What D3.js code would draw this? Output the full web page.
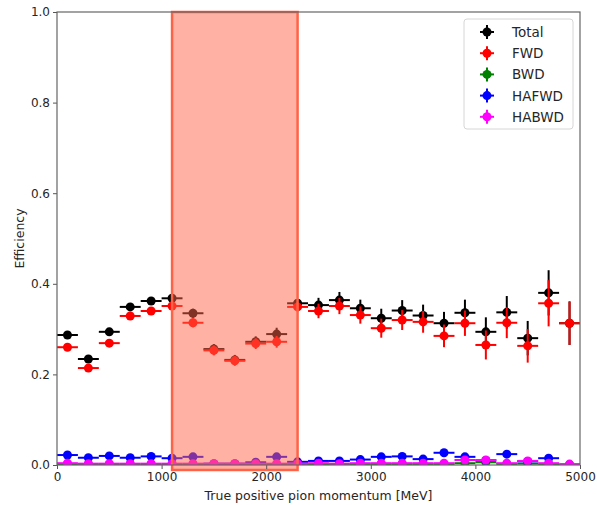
<!DOCTYPE html>
<html>
<head>
<meta charset="utf-8">
<script src="https://d3js.org/d3.v7.min.js"></script>
<style>
  body { margin: 0; background: #fff; }
  text { font-family: "DejaVu Sans", sans-serif; fill: #262626; }
</style>
</head>
<body>
<svg id="chart" width="597" height="505"></svg>
<script>
// bin centres (MeV), 200 MeV wide bins
var centres = [100,300,500,700,900,1100,1300,1500,1700,1900,2100,2300,2500,2700,2900,3100,3300,3500,3700,3900,4100,4300,4500,4700,4900];
var binHalf = 100;

// efficiencies
var total = [0.287,0.234,0.294,0.349,0.362,0.368,0.335,0.256,0.232,0.272,0.289,0.357,0.353,0.364,0.346,0.324,0.341,0.330,0.313,0.336,0.294,0.337,0.280,0.380,0.313];
var totalErr = [0.006,0.007,0.007,0.008,0.008,0.009,0.010,0.011,0.011,0.012,0.014,0.008,0.016,0.018,0.019,0.021,0.023,0.024,0.025,0.029,0.032,0.036,0.038,0.050,0.048];
var fwd = [0.260,0.214,0.269,0.329,0.340,0.351,0.314,0.253,0.230,0.268,0.272,0.349,0.340,0.351,0.331,0.302,0.320,0.316,0.285,0.313,0.265,0.314,0.263,0.357,0.313];
var fwdErr = [0.006,0.006,0.007,0.008,0.008,0.009,0.010,0.011,0.011,0.012,0.013,0.010,0.016,0.018,0.019,0.021,0.022,0.024,0.025,0.028,0.032,0.034,0.037,0.051,0.048];
var bwd = [0.001,0.001,0.001,0.001,0.001,0.001,0.001,0.001,0.001,0.001,0.001,0.001,0.001,0.001,0.001,0.002,0.001,0.002,0.001,0.004,0.006,0.002,0.003,0.001,0.000];
var bwdErr = [0.001,0.001,0.001,0.001,0.001,0.001,0.001,0.001,0.001,0.001,0.001,0.001,0.001,0.001,0.001,0.001,0.001,0.001,0.001,0.003,0.004,0.002,0.003,0.001,0.000];
var hafwd = [0.022,0.016,0.020,0.016,0.019,0.015,0.018,0.003,0.003,0.006,0.018,0.007,0.009,0.009,0.012,0.018,0.019,0.013,0.027,0.018,0.010,0.024,0.008,0.015,0.000];
var hafwdErr = [0.003,0.003,0.003,0.003,0.003,0.003,0.004,0.002,0.002,0.003,0.004,0.002,0.003,0.003,0.004,0.005,0.005,0.005,0.006,0.006,0.006,0.008,0.006,0.009,0.000];
var habwd = [0.004,0.003,0.003,0.003,0.003,0.003,0.003,0.003,0.003,0.003,0.003,0.003,0.004,0.003,0.004,0.004,0.004,0.004,0.004,0.011,0.011,0.004,0.009,0.004,0.002];
var habwdErr = [0.001,0.001,0.001,0.001,0.001,0.001,0.001,0.001,0.001,0.001,0.001,0.001,0.002,0.002,0.002,0.002,0.002,0.002,0.002,0.004,0.004,0.002,0.004,0.002,0.002];

var seriesNames = ["Total","FWD","BWD","HAFWD","HABWD"];
var seriesColors = ["black","red","green","blue","magenta"];
var seriesVals = [total, fwd, bwd, hafwd, habwd];
var seriesErrs = [totalErr, fwdErr, bwdErr, hafwdErr, habwdErr];

// highlighted momentum range
var bandRange = [1100, 2300];

var xTicks = [0,1000,2000,3000,4000,5000];
var yTicks = [0,0.2,0.4,0.6,0.8,1.0];

var margin = {left: 57, right: 17, top: 12, bottom: 40};
var W = 597, H = 505;

var svg = d3.select("#chart");

var x = d3.scaleLinear().domain([0, 5000]).range([margin.left, W - margin.right]);
var y = d3.scaleLinear().domain([0, 1]).range([H - margin.bottom, margin.top]);

var plot = svg.append("g");

// clip to axes area
svg.append("clipPath").attr("id", "clip")
  .append("rect")
  .attr("x", margin.left).attr("y", margin.top)
  .attr("width", W - margin.left - margin.right)
  .attr("height", H - margin.top - margin.bottom);

var data = plot.append("g").attr("clip-path", "url(#clip)");

seriesNames.forEach(function(name, s) {
  var g = data.append("g");
  var col = seriesColors[s];
  var pts = centres.map(function(c, i) {
    return {c: c, v: seriesVals[s][i], e: seriesErrs[s][i]};
  });
  g.selectAll(".xerr").data(pts).enter().append("line")
    .attr("x1", function(d) { return x(d.c - binHalf); })
    .attr("x2", function(d) { return x(d.c + binHalf); })
    .attr("y1", function(d) { return y(d.v); })
    .attr("y2", function(d) { return y(d.v); })
    .attr("stroke", col).attr("stroke-width", 2);
  g.selectAll(".yerr").data(pts).enter().append("line")
    .attr("x1", function(d) { return x(d.c); })
    .attr("x2", function(d) { return x(d.c); })
    .attr("y1", function(d) { return y(d.v - d.e); })
    .attr("y2", function(d) { return y(d.v + d.e); })
    .attr("stroke", col).attr("stroke-width", 2);
  g.selectAll("circle").data(pts).enter().append("circle")
    .attr("cx", function(d) { return x(d.c); })
    .attr("cy", function(d) { return y(d.v); })
    .attr("r", 4.5)
    .attr("fill", col);
});

// shaded band drawn on top
svg.append("rect")
  .attr("x", x(bandRange[0]))
  .attr("y", y(1.0))
  .attr("width", x(bandRange[1]) - x(bandRange[0]))
  .attr("height", y(-0.011) - y(1.0))
  .attr("fill", "tomato").attr("fill-opacity", 0.5)
  .attr("stroke", "tomato").attr("stroke-width", 2.5);

// axes
var xAxis = svg.append("g")
  .attr("transform", "translate(0," + (H - margin.bottom) + ")")
  .call(d3.axisBottom(x).tickValues(xTicks).tickSize(4).tickPadding(3).tickFormat(d3.format("d")));
var yAxis = svg.append("g")
  .attr("transform", "translate(" + margin.left + ",0)")
  .call(d3.axisLeft(y).tickValues(yTicks).tickSize(4).tickPadding(3).tickFormat(d3.format(".1f")));

[xAxis, yAxis].forEach(function(a) {
  a.select(".domain").remove();
  a.selectAll("line").attr("stroke", "#555");
  a.selectAll("text").style("font-size", "12px").style("font-family", "DejaVu Sans").attr("fill", "#262626");
});

// frame
svg.append("rect")
  .attr("x", margin.left).attr("y", margin.top)
  .attr("width", W - margin.left - margin.right)
  .attr("height", H - margin.top - margin.bottom)
  .attr("fill", "none").attr("stroke", "#666").attr("stroke-width", 1.2);

// axis labels
svg.append("text")
  .attr("x", (margin.left + W - margin.right) / 2)
  .attr("y", 500)
  .attr("text-anchor", "middle")
  .style("font-size", "12.5px")
  .text("True positive pion momentum [MeV]");
svg.append("text")
  .attr("transform", "translate(24," + ((margin.top + H - margin.bottom) / 2) + ") rotate(-90)")
  .attr("text-anchor", "middle")
  .style("font-size", "12.5px")
  .text("Efficiency");

// legend
var leg = svg.append("g").attr("transform", "translate(464,19)");
leg.append("rect")
  .attr("width", 109).attr("height", 110).attr("rx", 3)
  .attr("fill", "white").attr("fill-opacity", 0.8)
  .attr("stroke", "#d6d6d6");
seriesNames.forEach(function(name, s) {
  var cy = 13 + s * 21.2;
  var item = leg.append("g");
  item.append("line").attr("x1", 16).attr("x2", 30).attr("y1", cy).attr("y2", cy)
    .attr("stroke", seriesColors[s]).attr("stroke-width", 2);
  item.append("line").attr("x1", 23).attr("x2", 23).attr("y1", cy - 7).attr("y2", cy + 7)
    .attr("stroke", seriesColors[s]).attr("stroke-width", 2);
  item.append("circle").attr("cx", 23).attr("cy", cy).attr("r", 4.5).attr("fill", seriesColors[s]);
  item.append("text").attr("x", 48).attr("y", cy + 5)
    .style("font-size", "13.5px").text(name);
});
</script>
</body>
</html>
